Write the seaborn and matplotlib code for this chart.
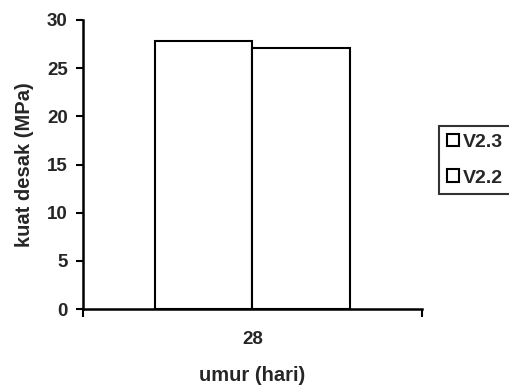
import matplotlib
matplotlib.use("Agg")
import matplotlib.pyplot as plt
import seaborn as sns
import pandas as pd

categories = ["28"]
series = ["V2.3", "V2.2"]
values_v23 = [27.8]
values_v22 = [27.1]
yticks = [0, 5, 10, 15, 20, 25, 30]

df = pd.DataFrame({
    "umur": categories * 2,
    "seri": [series[0]] * len(categories) + [series[1]] * len(categories),
    "kuat": values_v23 + values_v22,
})

sns.set_style("white")
plt.rcParams["font.family"] = ["Liberation Sans", "DejaVu Sans"]
plt.rcParams["font.weight"] = "bold"

fig = plt.figure(figsize=(5.1, 3.9), dpi=100)
ax = fig.add_axes([83 / 510, 1 - 309 / 390, (422 - 83) / 510, (309 - 20) / 390])

sns.barplot(data=df, x="umur", y="kuat", hue="seri", hue_order=series,
            palette=["white", "white"], edgecolor="black", linewidth=1.5,
            width=0.575, dodge=True, ax=ax, legend=True)

ax.set_ylim(0, 30)
ax.set_xlim(-0.5, 0.5)
ax.set_yticks(yticks)
ax.set_yticklabels([str(v) for v in yticks], fontsize=13.5, fontweight="bold")
ax.set_xticks([0])
ax.set_xticklabels(categories, fontsize=13.5, fontweight="bold")
ax.tick_params(axis="x", which="major", length=0, pad=16)
ax.set_xticks([-0.5, 0.5], minor=True)
ax.tick_params(axis="x", which="minor", length=6, width=1.5, color="black", direction="out", bottom=True)
ax.tick_params(axis="y", which="major", length=5, width=1.5, color="black", direction="out", left=True, pad=6)

for s in ["top", "right"]:
    ax.spines[s].set_visible(False)
for s in ["left", "bottom"]:
    ax.spines[s].set_color("black")
    ax.spines[s].set_linewidth(1.8)

ax.set_ylabel("kuat desak (MPa)", fontsize=14.5, fontweight="bold", labelpad=9)
ax.set_xlabel("umur (hari)", fontsize=14.5, fontweight="bold", labelpad=13)

handles, labels = ax.get_legend_handles_labels()
leg = ax.legend(handles, labels, loc="upper left", bbox_to_anchor=(1.05, 0.633),
                borderaxespad=0, frameon=True, fancybox=False,
                handlelength=0.62, handleheight=0.62, handletextpad=0.2,
                borderpad=0.4, labelspacing=0.95, prop={"weight": "bold", "size": 14})
leg.get_frame().set_edgecolor("black")
leg.get_frame().set_linewidth(1.5)

fig.savefig("out.png", dpi=100)
